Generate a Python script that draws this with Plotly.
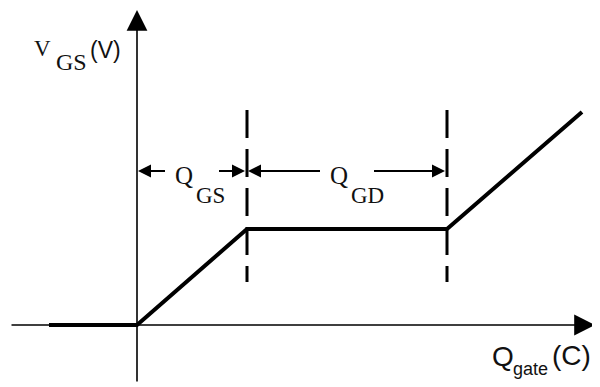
import plotly.graph_objects as go

# Gate-charge curve (Q in arbitrary units, V_GS in arbitrary units)
q_curve = [-0.88, 0.0, 1.10, 3.10, 4.45]
v_curve = [0.0, 0.0, 0.96, 0.96, 2.13]

# Region boundaries (Q) for the dimension arrows / dashed lines
boundaries = [0.0, 1.10, 3.10]
region_labels = ["GS", "GD"]

# Extents
x_axis_span = [-1.27, 4.58]
y_axis_span = [-0.58, 3.15]
dash_span = [2.15, 0.43]
dim_row_v = 1.54
label_half_gap = 0.255

SERIF = "Liberation Serif, Times New Roman, serif"
SANS = "Liberation Sans, Arial, sans-serif"
TXT = "#111111"

fig = go.Figure()
fig.add_trace(go.Scatter(x=q_curve, y=v_curve, mode="lines",
                         line=dict(color="black", width=4), hoverinfo="skip",
                         showlegend=False))

ann = []
# axes with arrows
ann.append(dict(x=x_axis_span[1], y=0, ax=x_axis_span[0], ay=0, xref="x", yref="y",
                axref="x", ayref="y", text="", showarrow=True, arrowhead=2,
                arrowsize=2.6, arrowwidth=1.6, arrowcolor="black"))
ann.append(dict(x=0, y=y_axis_span[1], ax=0, ay=y_axis_span[0], xref="x", yref="y",
                axref="x", ayref="y", text="", showarrow=True, arrowhead=2,
                arrowsize=2.6, arrowwidth=1.6, arrowcolor="black"))

shapes = []
for b in boundaries[1:]:
    shapes.append(dict(type="line", xref="x", yref="y", x0=b, x1=b,
                       y0=dash_span[0], y1=dash_span[1],
                       line=dict(color="black", width=3, dash="28px,11px")))

for i, lab in enumerate(region_labels):
    left, right = boundaries[i], boundaries[i + 1]
    c = (left + right) / 2
    # left arrow
    ann.append(dict(x=left + 0.01, y=dim_row_v, ax=c - label_half_gap, ay=dim_row_v,
                    xref="x", yref="y", axref="x", ayref="y", text="",
                    showarrow=True, arrowhead=2, arrowsize=1.3, arrowwidth=2,
                    arrowcolor="black"))
    # right arrow
    ann.append(dict(x=right - 0.02, y=dim_row_v, ax=c + label_half_gap, ay=dim_row_v,
                    xref="x", yref="y", axref="x", ayref="y", text="",
                    showarrow=True, arrowhead=2, arrowsize=1.3, arrowwidth=2,
                    arrowcolor="black"))
    # label Q + subscript
    ann.append(dict(x=c + 0.03, y=1.50, xref="x", yref="y", text="Q",
                    showarrow=False, xanchor="right", yanchor="middle",
                    font=dict(family=SERIF, size=25, color=TXT)))
    ann.append(dict(x=c + 0.02, y=1.30, xref="x", yref="y", text=lab,
                    showarrow=False, xanchor="left", yanchor="middle",
                    font=dict(family=SERIF, size=23, color=TXT)))

# V_GS (V) label
ann.append(dict(x=-1.05, y=2.77, xref="x", yref="y", text="V", showarrow=False,
                xanchor="left", yanchor="middle",
                font=dict(family=SERIF, size=23, color=TXT)))
ann.append(dict(x=-0.83, y=2.63, xref="x", yref="y", text="GS", showarrow=False,
                xanchor="left", yanchor="middle",
                font=dict(family=SERIF, size=24, color=TXT)))
ann.append(dict(x=-0.49, y=2.75, xref="x", yref="y", text="(V)", showarrow=False,
                xanchor="left", yanchor="middle",
                font=dict(family=SANS, size=23, color=TXT)))

# Q_gate (C) label
ann.append(dict(x=3.53, y=-0.31, xref="x", yref="y", text="Q", showarrow=False,
                xanchor="left", yanchor="middle",
                font=dict(family=SANS, size=28, color=TXT)))
ann.append(dict(x=3.74, y=-0.44, xref="x", yref="y", text="gate", showarrow=False,
                xanchor="left", yanchor="middle",
                font=dict(family=SANS, size=18, color=TXT)))
ann.append(dict(x=4.13, y=-0.30, xref="x", yref="y", text="(C)", showarrow=False,
                xanchor="left", yanchor="middle",
                font=dict(family=SANS, size=28, color=TXT)))

# The page body has an 8px margin, so the figure is sized to fill the rest
fig.update_layout(
    width=592, height=379,
    margin=dict(l=0, r=0, t=0, b=0),
    paper_bgcolor="white", plot_bgcolor="white",
    xaxis=dict(range=[-1.29, 4.63], visible=False, fixedrange=True),
    yaxis=dict(range=[-0.62, 3.17], visible=False, fixedrange=True),
    annotations=ann, shapes=shapes, showlegend=False,
)

fig.write_html("out.html")
